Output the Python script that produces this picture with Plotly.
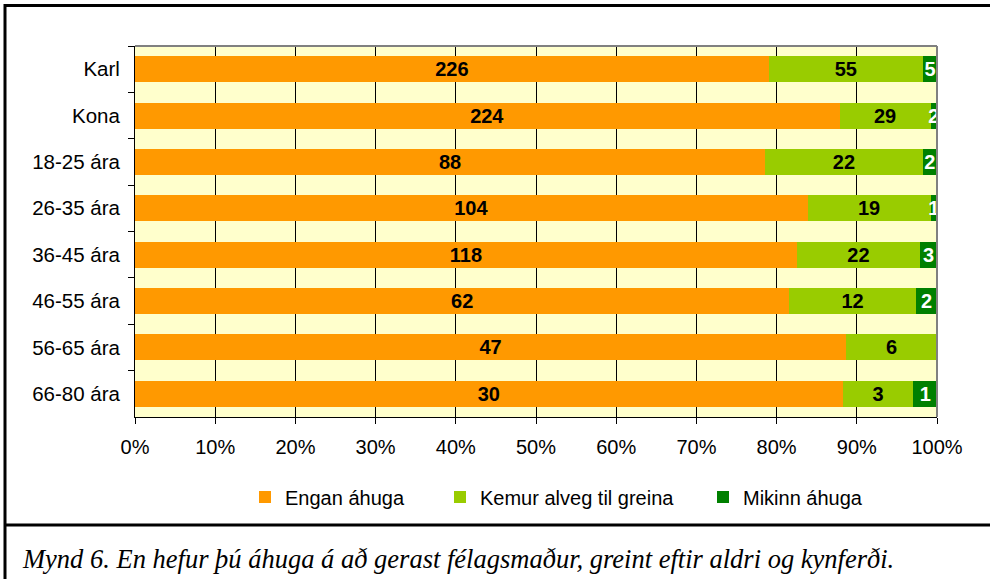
import plotly.graph_objects as go

categories = ["Karl", "Kona", "18-25 ára", "26-35 ára", "36-45 ára", "46-55 ára", "56-65 ára", "66-80 ára"]
engan = [226, 224, 88, 104, 118, 62, 47, 30]
kemur = [55, 29, 22, 19, 22, 12, 6, 3]
mikinn = [5, 2, 2, 1, 3, 2, 0, 1]
series_names = ["Engan áhuga", "Kemur alveg til greina", "Mikinn áhuga"]
series_colors = ["#FF9900", "#99CC00", "#008000"]
label_colors = ["black", "black", "white"]
x_ticks = [0, 10, 20, 30, 40, 50, 60, 70, 80, 90, 100]
x_ticklabels = [f"{t}%" for t in x_ticks]
caption = "Mynd 6. En hefur þú áhuga á að gerast félagsmaður, greint eftir aldri og kynferði."

W, H = 990, 579
L, R, T, B = 135, 937, 46, 417
pw, ph = R - L, B - T

def px(x):
    return (x - L) / pw

def py(y):
    return (B - y) / ph

FONT = "Arial, Liberation Sans, sans-serif"

fig = go.Figure()
legend_x = [262, 457, 720]
legend_ids = ["legend", "legend2", "legend3"]
for i, vals in enumerate([engan, kemur, mikinn]):
    fig.add_trace(go.Bar(
        y=categories, x=vals, orientation="h", name=series_names[i],
        marker=dict(color=series_colors[i], line=dict(width=0)),
        text=[str(v) for v in vals], texttemplate="%{text}",
        textposition="inside", insidetextanchor="middle",
        constraintext="none", textangle=0,
        textfont=dict(family=FONT, size=20, color=label_colors[i], weight="bold"),
        legend=legend_ids[i], hoverinfo="skip", cliponaxis=True,
    ))

legend_common = dict(orientation="h", yanchor="middle", xanchor="left",
                     font=dict(family=FONT, size=20, color="black"),
                     bgcolor="rgba(0,0,0,0)", borderwidth=0, itemwidth=30)
layout_legends = {}
for i, lid in enumerate(legend_ids):
    layout_legends[lid] = dict(legend_common, x=px(legend_x[i] - 17), y=py(497))

fig.update_layout(
    width=W, height=H,
    margin=dict(l=L, r=W - R, t=T, b=H - B, pad=0),
    barmode="stack", barnorm="percent", bargap=0.44,
    plot_bgcolor="#FFFFCC", paper_bgcolor="white",
    font=dict(family=FONT, size=20, color="black"),
    showlegend=True,
    **layout_legends,
)
fig.update_xaxes(
    range=[0, 100], tickvals=x_ticks, ticktext=x_ticklabels,
    showgrid=True, gridcolor="black", gridwidth=1,
    showline=True, linecolor="black", linewidth=1,
    ticks="outside", ticklen=6, tickcolor="black", tickwidth=1,
    ticklabelstandoff=6, zeroline=False, fixedrange=True,
    tickfont=dict(family=FONT, size=20, color="black"),
)
fig.update_yaxes(
    categoryorder="array", categoryarray=categories, autorange="reversed",
    showgrid=False, showline=True, linecolor="black", linewidth=1,
    ticks="outside", ticklen=6, tickcolor="black", tickwidth=1,
    tickson="boundaries", ticklabelstandoff=10, fixedrange=True,
    tickfont=dict(family=FONT, size=20.5, color="black"),
)

shapes = [
    dict(type="line", xref="paper", yref="paper", x0=0, x1=1, y0=1, y1=1,
         line=dict(color="#808080", width=2), layer="above"),
    dict(type="line", xref="paper", yref="paper", x0=1, x1=1, y0=0, y1=1,
         line=dict(color="#808080", width=2), layer="above"),
    dict(type="line", xref="paper", yref="paper", x0=px(5), x1=px(W + 5), y0=py(5.5), y1=py(5.5),
         line=dict(color="black", width=3)),
    dict(type="line", xref="paper", yref="paper", x0=px(5), x1=px(5), y0=py(4), y1=py(H + 5),
         line=dict(color="black", width=3)),
    dict(type="line", xref="paper", yref="paper", x0=px(5), x1=px(W + 5), y0=py(525), y1=py(525),
         line=dict(color="black", width=3)),
]
fig.update_layout(shapes=shapes)

fig.add_annotation(
    text=caption, xref="paper", yref="paper", x=px(20), y=py(559),
    xanchor="left", yanchor="middle", showarrow=False,
    font=dict(family="Times New Roman, Liberation Serif, serif", size=26.5, color="black", style="italic"),
)

fig.write_html("out.html", config={"displayModeBar": False},
               post_script="document.body.style.margin='0';document.body.style.overflow='hidden';")
